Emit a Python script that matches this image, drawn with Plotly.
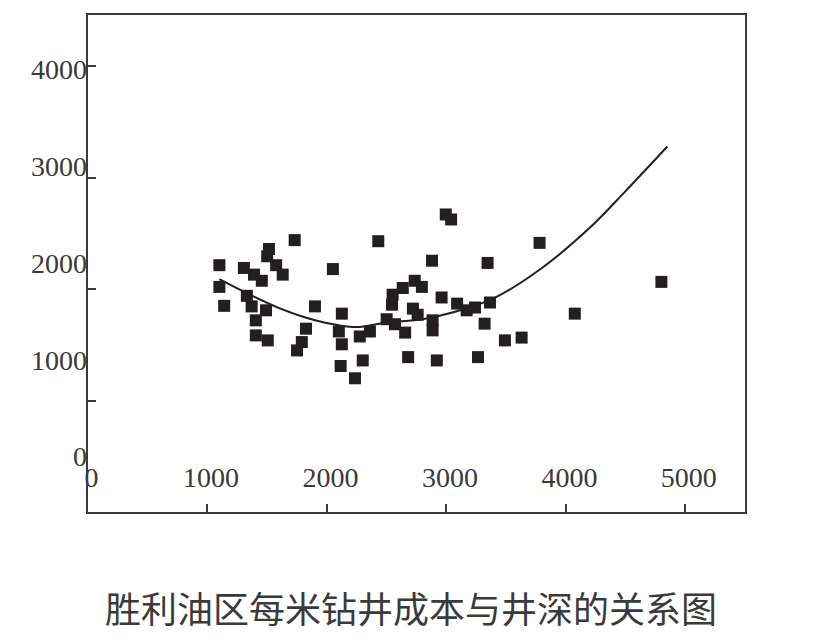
#!/usr/bin/env python3

# Import python packages
#----------------------------------
import plotly.graph_objects as go
#----------------------------------

# Data
#----------------------------------
# well depth (m) and cost per metre for each well
depth = [1100, 1100, 1140, 1305, 1390, 1455, 1515, 1500, 1575, 1630,
         1730, 2050, 2430, 1330, 1370, 1405, 1405, 1505, 1490, 1900,
         1825, 1790, 1750, 2125, 2100, 2125, 2115, 2235, 2300, 2275,
         2360, 2500, 2570, 2655, 2550, 2545, 2635, 2735, 2795, 2720,
         2760, 2885, 2885, 2960, 3090, 3170, 3240, 3365, 3320, 2680,
         2920, 3265, 2995, 3040, 2880, 3345, 3780, 4075, 3490, 3630,
         4800]
cost = [2215, 2020, 1850, 2190, 2130, 2075, 2360, 2295, 2215, 2130,
        2440, 2180, 2430, 1940, 1845, 1720, 1585, 1540, 1810, 1845,
        1645, 1525, 1450, 1780, 1620, 1505, 1310, 1200, 1360, 1575,
        1620, 1730, 1685, 1610, 1950, 1860, 2010, 2075, 2020, 1825,
        1770, 1720, 1630, 1925, 1870, 1810, 1835, 1880, 1690, 1390,
        1360, 1390, 2670, 2625, 2255, 2235, 2415, 1780, 1540, 1565,
        2065]

# fitted trend curve
fit_depth = [1100, 1300, 1600, 1900, 2100, 2250, 2500, 2800, 3050, 3400,
             3800, 4200, 4500, 4850]
fit_cost = [2090, 1980, 1830, 1720, 1675, 1660, 1700, 1730, 1790, 1920,
            2190, 2550, 2880, 3280]

# axis ticks and labels
x_ticks = [1000, 2000, 3000, 4000, 5000]
x_labels = [0, 1000, 2000, 3000, 4000, 5000]
y_ticks = [1000, 2000, 3000, 4000]
y_labels = [0, 1000, 2000, 3000, 4000]
caption = '胜利油区每米钻井成本与井深的关系图'
#----------------------------------

ink = '#231f20'
axis_col = '#3a3a3a'
num_font = dict(family='Liberation Serif', size=28, color='#3a3a3a')

fig = go.Figure()

fig.add_trace(go.Scatter(x=depth, y=cost, mode='markers',
                         marker=dict(symbol='square', size=12, color=ink),
                         showlegend=False, hoverinfo='x+y'))

fig.add_trace(go.Scatter(x=fit_depth, y=fit_cost, mode='lines',
                         line=dict(color=ink, width=2, shape='spline'),
                         showlegend=False, hoverinfo='skip'))

# empty helper trace so the overlaid label axes get drawn
fig.add_trace(go.Scatter(x=x_labels[:1], y=y_labels[:1], xaxis='x2', yaxis='y2',
                         mode='markers', marker=dict(size=1, opacity=0),
                         showlegend=False, hoverinfo='skip'))

# Axes: the data axes carry the tick marks, the overlaid axes carry the
# (slightly shifted) numbers as printed in the original figure
fig.update_layout(
    width=810, height=632,
    margin=dict(l=80, r=73, t=5, b=128),
    paper_bgcolor='white', plot_bgcolor='white',
    xaxis=dict(range=[0, 5500], tickvals=x_ticks, showticklabels=False,
               ticks='inside', ticklen=8, tickwidth=2, tickcolor=axis_col,
               showline=True, linecolor=axis_col, linewidth=2, mirror=True,
               showgrid=False, zeroline=False),
    yaxis=dict(range=[0, 4460], tickvals=y_ticks, showticklabels=False,
               ticks='inside', ticklen=8, tickwidth=2, tickcolor=axis_col,
               showline=True, linecolor=axis_col, linewidth=2, mirror=True,
               showgrid=False, zeroline=False),
    xaxis2=dict(overlaying='x', anchor='free', position=0.108, side='bottom',
                range=[-30, 5470], tickvals=x_labels, ticks='',
                showline=False, showgrid=False, zeroline=False,
                tickfont=num_font),
    yaxis2=dict(overlaying='y', anchor='x', side='left',
                range=[-573, 4560], tickvals=y_labels, ticks='',
                showline=False, showgrid=False, zeroline=False,
                tickfont=num_font),
    annotations=[dict(text=caption, xref='paper', yref='paper',
                      x=0.4916, y=-0.192, xanchor='center', yanchor='middle',
                      showarrow=False,
                      font=dict(family='Noto Sans CJK SC', size=36,
                                color='#3a3a3a'))],
)

fig.write_html('out.html')
